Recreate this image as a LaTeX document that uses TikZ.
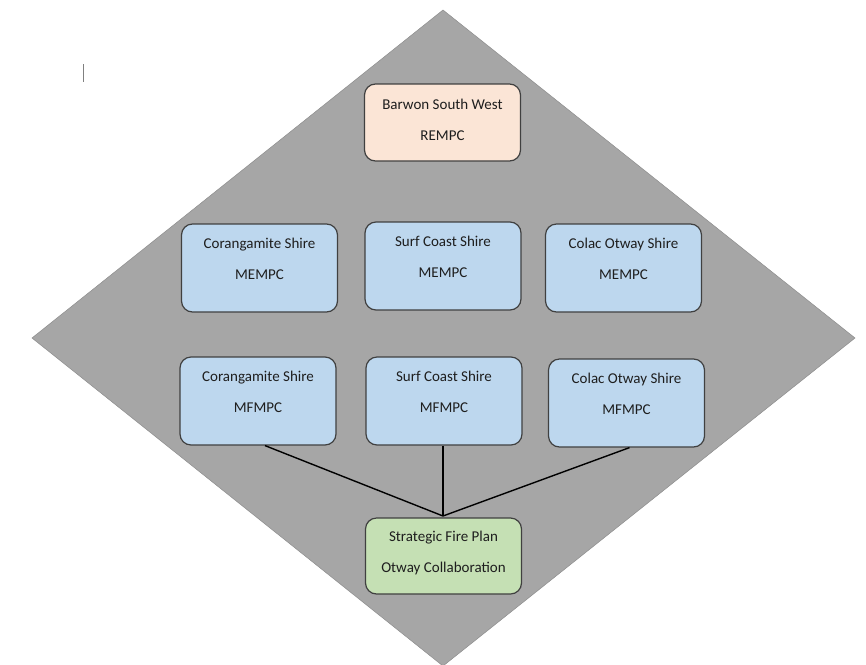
\documentclass[tikz,border=0pt]{standalone}
\usepackage{fontspec}
\setmainfont{Carlito}
\usetikzlibrary{calc}
\definecolor{diagray}{RGB}{166,166,166}
\definecolor{peach}{RGB}{251,229,214}
\definecolor{lblue}{RGB}{189,215,238}
\definecolor{lgreen}{RGB}{197,224,180}
\definecolor{edgec}{RGB}{64,64,64}
\definecolor{txtc}{RGB}{30,30,30}
\begin{document}
\begin{tikzpicture}[x=1pt,y=-1pt,
  box/.style={draw=edgec, line width=1.2pt, rounded corners=11pt, minimum width=156pt, inner sep=0pt},
  txt/.style={font=\fontsize{15}{31}\selectfont, text=txtc, align=center, inner sep=0pt},
  conn/.style={draw=black, line width=1.4pt}]
\useasboundingbox (0,0) rectangle (866,664);
% diamond
\coordinate (dt) at (443,10);
\coordinate (dl) at (32,338);
\coordinate (dr) at (855,338);
\coordinate (db) at (443,666);
\fill[diagray] (dt) -- (dr) -- (db) -- (dl) -- cycle;
\draw[diagray!85!black, line width=0.5pt] (dt) -- (dr) -- (db) -- (dl) -- cycle;
% cursor mark
\draw[gray, line width=0.8pt] (83,64) -- (83,82);
% boxes
\node[box, fill=peach, minimum height=77pt] (bsw) at (442.5,122.5) {};
\node[txt] (bswt) at (442.5,120) {Barwon South West\\REMPC};
\node[box, fill=lblue, minimum height=88pt] (cm) at (259.5,268) {};
\node[txt] (cmt) at (259.5,259) {Corangamite Shire\\MEMPC};
\node[box, fill=lblue, minimum height=88pt] (sm) at (443,266) {};
\node[txt] (smt) at (443,257) {Surf Coast Shire\\MEMPC};
\node[box, fill=lblue, minimum height=88pt] (om) at (623.5,268) {};
\node[txt] (omt) at (623.5,259) {Colac Otway Shire\\MEMPC};
\node[box, fill=lblue, minimum height=88pt] (cf) at (258,401) {};
\node[txt] (cft) at (258,392) {Corangamite Shire\\MFMPC};
\node[box, fill=lblue, minimum height=88pt] (sf) at (444,401) {};
\node[txt] (sft) at (444,392) {Surf Coast Shire\\MFMPC};
\node[box, fill=lblue, minimum height=88pt] (of) at (626.5,403) {};
\node[txt] (oft) at (626.5,394) {Colac Otway Shire\\MFMPC};
\node[box, fill=lgreen, minimum height=76pt] (sfp) at (443.5,556) {};
\node[txt] (sfpt) at (443.5,552.5) {Strategic Fire Plan\\Otway Collaboration};
% connectors
\coordinate (join) at (443,516);
\draw[conn] (cf.south) ++(7,0) coordinate (cfs) -- (join);
\draw[conn] (sf.south) ++(-1,0) coordinate (sfs) -- (join);
\draw[conn] (of.south) ++(3,0) coordinate (ofs) -- (join);
\end{tikzpicture}
\end{document}
